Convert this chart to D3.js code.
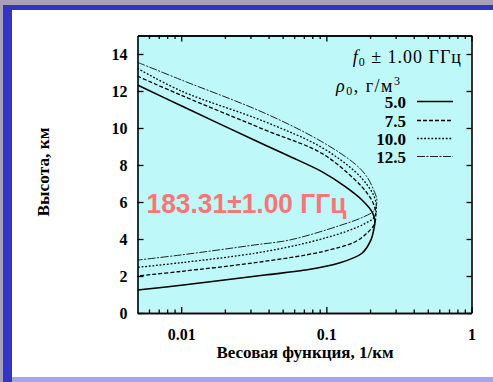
<!DOCTYPE html>
<html><head><meta charset="utf-8">
<script src="https://cdn.jsdelivr.net/npm/d3@7"></script>
<style>body{margin:0;background:#a9a1b1;} svg{display:block}</style>
</head><body><svg id="c" width="493" height="382"></svg>
<script>
// ---- data ----
const xMajorTicks = [0.01, 0.1, 1];
const xMajorLabels = ["0.01", "0.1", "1"];
const xMinorTicks = [0.006,0.007,0.008,0.009,0.02,0.03,0.04,0.05,0.06,0.07,0.08,0.09,0.2,0.3,0.4,0.5,0.6,0.7,0.8,0.9];
const yTicks = [0, 2, 4, 6, 8, 10, 12, 14];
const yTickLabels = ["0", "2", "4", "6", "8", "10", "12", "14"];
const densityLabels = ["5.0", "7.5", "10.0", "12.5"];

const weights50 = [0.005, 0.01, 0.0377, 0.0547, 0.0931, 0.135, 0.176, 0.206, 0.216, 0.212, 0.203, 0.176, 0.121, 0.0713, 0.0377, 0.01, 0.005];
const heights50 = [12.32, 11.2, 9.08, 8.5, 7.64, 6.83, 6.11, 5.48, 5.0, 4.5, 3.95, 3.23, 2.69, 2.32, 2.05, 1.5, 1.24];

const weights75 = [0.005, 0.01, 0.0377, 0.093, 0.158, 0.19, 0.21, 0.219, 0.214, 0.19, 0.158, 0.093, 0.0322, 0.01, 0.005];
const heights75 = [12.8, 11.77, 9.9, 8.63, 7.19, 6.5, 5.95, 5.4, 4.8, 4.31, 3.85, 3.31, 2.72, 2.25, 2.0];

const weights100 = [0.005, 0.01, 0.0377, 0.093, 0.158, 0.19, 0.212, 0.221, 0.215, 0.186, 0.135, 0.0713, 0.0322, 0.01, 0.005];
const heights100 = [13.22, 12.0, 10.34, 8.95, 7.64, 6.95, 6.35, 5.8, 5.2, 4.85, 4.39, 3.77, 3.23, 2.72, 2.47];

const weights125 = [0.005, 0.01, 0.0377, 0.093, 0.158, 0.19, 0.213, 0.223, 0.214, 0.181, 0.123, 0.0562, 0.0322, 0.01, 0.005];
const heights125 = [13.55, 12.6, 10.8, 9.26, 8.05, 7.37, 6.6, 6.1, 5.55, 5.2, 4.72, 3.95, 3.68, 3.14, 2.86];

// ---- drawing ----
const svg = d3.select("#c");
svg.append("rect").attr("x",0).attr("y",0).attr("width",493).attr("height",382).attr("fill","#a9a1b1");
svg.append("rect").attr("x",3).attr("y",5).attr("width",490).attr("height",377).attr("fill","#3434c4");
svg.append("rect").attr("x",12).attr("y",10).attr("width",481).attr("height",367).attr("fill","#ffffff");
svg.append("rect").attr("x",12).attr("y",377).attr("width",481).attr("height",5).attr("fill","#a3a6e6");

const L = 137.5, R = 471.5, T = 35.5, B = 313;
const x = d3.scaleLog().domain([0.005, 1]).range([L, R]);
const y = d3.scaleLinear().domain([0, 15]).range([B, T]);

svg.append("rect").attr("x",L).attr("y",T).attr("width",R-L).attr("height",B-T).attr("fill","#bef8f8");

svg.append("clipPath").attr("id","clip").append("rect").attr("x",L).attr("y",T).attr("width",R-L).attr("height",B-T);

const series = [
  {w: weights50, h: heights50, dash: null, sw: 1.6, col: "#000"},
  {w: weights75, h: heights75, dash: "4,2", sw: 1.3, col: "#000"},
  {w: weights100, h: heights100, dash: "1.8,1.8", sw: 1.3, col: "#000"},
  {w: weights125, h: heights125, dash: "8,1.5,2,1.5", sw: 1.0, col: "#222"}
];
const line = d3.line().x(d => x(d[0])).y(d => y(d[1])).curve(d3.curveCatmullRom.alpha(0.5));
const gc = svg.append("g").attr("clip-path","url(#clip)");
series.forEach(s => {
  const pts = s.w.map((w,i) => [w, s.h[i]]);
  gc.append("path").attr("d", line(pts)).attr("fill","none").attr("stroke", s.col)
    .attr("stroke-width", s.sw).attr("stroke-dasharray", s.dash);
});

// axes
const serif = "'Liberation Serif', 'Times New Roman', serif";
function styleAxis(g) {
  g.selectAll(".domain").attr("stroke","#000").attr("stroke-width",1.6);
  g.selectAll(".tick line").attr("stroke","#000").attr("stroke-width",1.3);
}
const gb = svg.append("g").attr("transform",`translate(0,${B})`)
  .call(d3.axisBottom(x).tickValues(xMajorTicks).tickSize(-6).tickSizeOuter(0).tickFormat((d,i)=>xMajorLabels[i]));
gb.selectAll("text").attr("y",27).attr("dy",0).attr("font-family",serif).attr("font-size",16).attr("font-weight","bold").attr("fill","#000");
styleAxis(gb);
const gbm = svg.append("g").attr("transform",`translate(0,${B})`)
  .call(d3.axisBottom(x).tickValues(xMinorTicks).tickSize(-3.5).tickSizeOuter(0).tickFormat(""));
styleAxis(gbm);
const gt = svg.append("g").attr("transform",`translate(0,${T})`)
  .call(d3.axisTop(x).tickValues(xMajorTicks).tickSize(-6).tickSizeOuter(0).tickFormat(""));
styleAxis(gt);
const gtm = svg.append("g").attr("transform",`translate(0,${T})`)
  .call(d3.axisTop(x).tickValues(xMinorTicks).tickSize(-3.5).tickSizeOuter(0).tickFormat(""));
styleAxis(gtm);
const gl = svg.append("g").attr("transform",`translate(${L},0)`)
  .call(d3.axisLeft(y).tickValues(yTicks).tickSize(-6).tickSizeOuter(0).tickFormat((d,i)=>yTickLabels[i]));
gl.selectAll("text").attr("x",-10).attr("dy","0.36em").attr("font-family",serif).attr("font-size",16).attr("font-weight","bold").attr("fill","#000");
styleAxis(gl);
const gr = svg.append("g").attr("transform",`translate(${R},0)`)
  .call(d3.axisRight(y).tickValues(yTicks).tickSize(-5).tickSizeOuter(0).tickFormat(""));
styleAxis(gr);

// axis titles
svg.append("text").attr("x",305).attr("y",358).attr("text-anchor","middle")
  .attr("font-family",serif).attr("font-size",16).attr("font-weight","bold")
  .attr("textLength",177).attr("lengthAdjust","spacingAndGlyphs").text("Весовая функция, 1/км");
svg.append("text").attr("transform","translate(49,172) rotate(-90)").attr("text-anchor","middle")
  .attr("font-family",serif).attr("font-size",16).attr("font-weight","bold")
  .attr("textLength",89).attr("lengthAdjust","spacingAndGlyphs").text("Высота, км");

// red annotation
svg.append("text").attr("x",146.5).attr("y",213).attr("font-family","'Liberation Sans', Arial, sans-serif")
  .attr("font-size",28).attr("font-weight","bold").attr("fill","#f87676")
  .attr("textLength",200).attr("lengthAdjust","spacingAndGlyphs").text("183.31±1.00 ГГц");

// legend
const hdr = svg.append("text").attr("x",462).attr("y",63).attr("text-anchor","end")
  .attr("font-family",serif).attr("font-size",18).attr("letter-spacing","1px");
hdr.append("tspan").attr("font-style","italic").text("f");
hdr.append("tspan").attr("font-size",12).attr("dy",3).text("0");
hdr.append("tspan").attr("dy",-3).text(" ± 1.00 ГГц");

const rho = svg.append("text").attr("x",336).attr("y",91.5)
  .attr("font-family",serif).attr("font-size",18).attr("letter-spacing","1.5px");
rho.append("tspan").attr("font-style","italic").text("ρ");
rho.append("tspan").attr("font-size",12).attr("dy",3).text("0");
rho.append("tspan").attr("dy",-3).text(", г/м");
rho.append("tspan").attr("font-size",12).attr("dy",-7).text("3");

const legY = [108, 127, 145, 163];
densityLabels.forEach((lab,i) => {
  svg.append("text").attr("x",406).attr("y",legY[i]).attr("text-anchor","end")
    .attr("font-family",serif).attr("font-size",17).attr("font-weight","bold").text(lab);
  svg.append("line").attr("x1",417).attr("x2",453).attr("y1",legY[i]-6.5).attr("y2",legY[i]-6.5)
    .attr("stroke",series[i].col).attr("stroke-width",series[i].sw).attr("stroke-dasharray",series[i].dash);
});
</script></body></html>
